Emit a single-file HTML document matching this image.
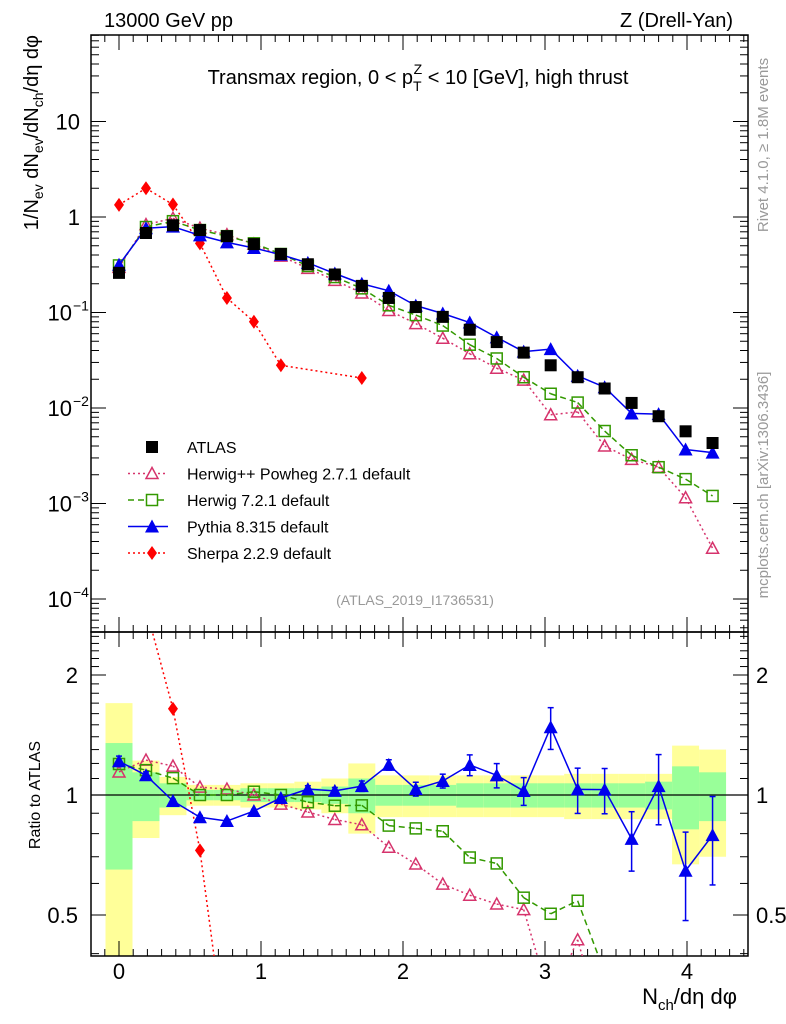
<!DOCTYPE html>
<html><head><meta charset="utf-8"><style>
html,body{margin:0;padding:0;background:#fff;width:786px;height:1024px;overflow:hidden}
svg{display:block;font-family:"Liberation Sans",sans-serif}
</style></head><body>
<svg id="chart" width="786" height="1024" viewBox="0 0 786 1024" xmlns="http://www.w3.org/2000/svg"></svg>
<script>
const xVals=[0,0.19,0.38,0.57,0.76,0.95,1.14,1.33,1.52,1.71,1.9,2.09,2.28,2.47,2.66,2.85,3.04,3.23,3.42,3.61,3.8,3.99,4.18];
const atlas=[0.26,0.68,0.82,0.73,0.63,0.52,0.41,0.32,0.25,0.19,0.142,0.114,0.090,0.066,0.049,0.038,0.028,0.021,0.016,0.0113,0.0082,0.0057,0.0043];
const herwigPP=[0.297,0.832,0.969,0.764,0.652,0.52,0.389,0.29,0.217,0.16,0.105,0.0765,0.0538,0.037,0.0261,0.0196,0.0085,0.0091,0.0040,0.0029,0.0024,0.00115,0.00034];
const herwig7=[0.311,0.785,0.904,0.73,0.63,0.53,0.41,0.307,0.235,0.179,0.119,0.094,0.073,0.046,0.033,0.021,0.0141,0.0114,0.00574,0.0032,0.0024,0.0018,0.0012];
const pythia=[0.316,0.762,0.792,0.642,0.542,0.474,0.403,0.331,0.256,0.2,0.169,0.118,0.0976,0.0785,0.0549,0.0389,0.0414,0.0217,0.0165,0.00877,0.00863,0.00368,0.00341];
const pythiaErr=[0.03,0.02,0.01,0.01,0.01,0.01,0.01,0.02,0.02,0.03,0.03,0.04,0.04,0.06,0.07,0.08,0.12,0.13,0.13,0.17,0.2,0.25,0.25];
const sherpaX=[0,0.19,0.38,0.57,0.76,0.95,1.14,1.71];
const sherpa=[1.34,2.0,1.35,0.53,0.142,0.080,0.028,0.0206];
const totErr=[0.70,0.22,0.11,0.06,0.06,0.07,0.07,0.08,0.1,0.2,0.12,0.12,0.12,0.12,0.12,0.12,0.12,0.13,0.13,0.13,0.13,0.33,0.3];
const statErr=[0.35,0.14,0.07,0.03,0.03,0.04,0.04,0.04,0.05,0.1,0.06,0.06,0.06,0.07,0.07,0.07,0.07,0.07,0.07,0.07,0.08,0.18,0.14];
const mainTicks=[10,1,0.1,0.01,0.001,0.0001];
const mainTickLabels=["10","1","10","10","10","10"];
const mainTickExp=["","","−1","−2","−3","−4"];
const ratioTicks=[2,1,0.5];
const xTicks=[0,1,2,3,4];

const svg=document.getElementById('chart');
const NS='http://www.w3.org/2000/svg';
const L=91,R=748,T=35,M=632,B=956;
const sx=x=>119+x*142;
const sy=v=>217-95.5*Math.log10(v);
const ry=r=>795-120*Math.log2(r);
function mk(tag,attrs,parent){const e=document.createElementNS(NS,tag);for(const k in attrs)e.setAttribute(k,attrs[k]);(parent||svg).appendChild(e);return e;}
function txt(s,attrs,parent){const e=mk('text',attrs,parent);e.textContent=s;return e;}

const defs=mk('defs',{});
const c1=mk('clipPath',{id:'cm'},defs);mk('rect',{x:L,y:T,width:R-L,height:M-T},c1);
const c2=mk('clipPath',{id:'cr'},defs);mk('rect',{x:L,y:M,width:R-L,height:B-M},c2);

const bands=mk('g',{'clip-path':'url(#cr)'});


xVals.forEach((x,i)=>{
  const x0=sx(x-0.095),x1=sx(x+0.095);
  const top=Math.max(ry(1+totErr[i]),M),bot=Math.min(ry(Math.max(1-totErr[i],0.3)),B);
  const yl=mk('rect',{x:x0,y:top,width:x1-x0,height:bot-top,fill:'#ffff99'},bands);
  
  
  const gr=mk('rect',{x:x0,y:ry(1+statErr[i]),width:x1-x0,height:ry(1-statErr[i])-ry(1+statErr[i]),fill:'#99ff99'},bands);
  
  
});
mk('line',{x1:L,x2:R,y1:ry(1),y2:ry(1),stroke:'#000','stroke-width':1.3});

const f1=mk('rect',{x:L,y:T,width:R-L,height:M-T,fill:'none',stroke:'#000','stroke-width':1.5});

const f2=mk('rect',{x:L,y:M,width:R-L,height:B-M,fill:'none',stroke:'#000','stroke-width':1.5});


const tk=mk('g',{stroke:'#000','stroke-width':1});
for(let e=-5;e<=2;e++){for(let m=1;m<10;m++){const v=m*Math.pow(10,e);const y=sy(v);if(y<T||y>M)continue;const len=m===1?15:8;
  mk('line',{x1:L,x2:L+len,y1:y,y2:y},tk);mk('line',{x1:R-len,x2:R,y1:y,y2:y},tk);}}
for(let k=3;k<=25;k++){const r=k/10;const y=ry(r);if(y<M||y>B)continue;const maj=(k===10||k===20||k===5);const len=maj?15:8;
  mk('line',{x1:L,x2:L+len,y1:y,y2:y},tk);mk('line',{x1:R-len,x2:R,y1:y,y2:y},tk);}
for(let k=-3;k<=45;k++){const x=k/10;const X=sx(x);if(X<L||X>R)continue;const maj=(k%10===0);const len=maj?15:7;
  [T,M].forEach(y0=>mk('line',{x1:X,x2:X,y1:y0,y2:y0+len},tk));
  [M,B].forEach(y0=>mk('line',{x1:X,x2:X,y1:y0-len,y2:y0},tk));}

mainTicks.forEach((v,i)=>{const g=mk('g',{});
  if(mainTickExp[i]){txt(mainTickLabels[i],{x:72,y:sy(v)+8,'font-size':22,'text-anchor':'end'},g);txt(mainTickExp[i],{x:73,y:sy(v)-2,'font-size':14},g);}
  else txt(mainTickLabels[i],{x:80,y:sy(v)+8,'font-size':22,'text-anchor':'end'},g);});
ratioTicks.forEach(r=>{const a=txt(String(r),{x:78,y:ry(r)+8,'font-size':22,'text-anchor':'end'});
  const b=txt(String(r),{x:756,y:ry(r)+8,'font-size':22,fill:'#000'});});
xTicks.forEach(x=>{const a=txt(String(x),{x:sx(x),y:979,'font-size':22,'text-anchor':'middle'});});

// clip a segment to y range [y0,y1]
function clipSeg(a,b,y0,y1){
  let t0=0,t1=1;const dy=b[1]-a[1];
  if(dy===0){if(a[1]<y0||a[1]>y1)return null;}
  else{let ta=(y0-a[1])/dy,tb=(y1-a[1])/dy;if(ta>tb)[ta,tb]=[tb,ta];t0=Math.max(t0,ta);t1=Math.min(t1,tb);if(t0>t1)return null;}
  const p=t=>[a[0]+(b[0]-a[0])*t,a[1]+dy*t];return [p(t0),p(t1)];
}
function series(name,xs,vals,color,dash,marker,clipId,mapY,errs,yr){
  const g=mk('g',{'clip-path':'url(#'+clipId+')'});
  
  const pts=xs.map((x,i)=>[sx(x),mapY(vals[i],i)]);
  if(dash!==null){
    for(let i=0;i<pts.length-1;i++){const s=clipSeg(pts[i],pts[i+1],yr[0],yr[1]);if(!s)continue;
      mk('line',{x1:s[0][0],y1:s[0][1],x2:s[1][0],y2:s[1][1],stroke:color,'stroke-width':1.5,'stroke-dasharray':dash},g);}
  }
  pts.forEach((p,i)=>{
    if(p[1]<yr[0]||p[1]>yr[1])return;
    if(errs){const e=errs[i];const y1=Math.max(mapY(vals[i]*(1+e),i),yr[0]),y2=Math.min(mapY(vals[i]*(1-e),i),yr[1]);
      mk('line',{x1:p[0],x2:p[0],y1:y1,y2:y2,stroke:color,'stroke-width':1.5},g);
      mk('line',{x1:p[0]-3,x2:p[0]+3,y1:y1,y2:y1,stroke:color,'stroke-width':1.5},g);
      mk('line',{x1:p[0]-3,x2:p[0]+3,y1:y2,y2:y2,stroke:color,'stroke-width':1.5},g);}
    let m;
    if(marker==='sq') m=mk('rect',{x:p[0]-6,y:p[1]-6,width:12,height:12,fill:'#000'},g);
    else if(marker==='osq') m=mk('rect',{x:p[0]-5.5,y:p[1]-5.5,width:11,height:11,fill:'none',stroke:color,'stroke-width':1.5},g);
    else if(marker==='otri') m=mk('polygon',{points:`${p[0]},${p[1]-6} ${p[0]-6},${p[1]+5} ${p[0]+6},${p[1]+5}`,fill:'none',stroke:color,'stroke-width':1.5},g);
    else if(marker==='tri') m=mk('polygon',{points:`${p[0]},${p[1]-7} ${p[0]-7},${p[1]+6} ${p[0]+7},${p[1]+6}`,fill:color},g);
    else m=mk('polygon',{points:`${p[0]},${p[1]-7} ${p[0]-5},${p[1]} ${p[0]},${p[1]+7} ${p[0]+5},${p[1]}`,fill:color},g);
    
    
  });
}
const mainY=v=>sy(v);
const MR=[T-8,M+8],RR=[M-8,B+8];
series('sherpa-main',sherpaX,sherpa,'#ff0000','2,3','dia','cm',mainY,null,MR);
series('herwigpp-main',xVals,herwigPP,'#d6336c','2,3','otri','cm',mainY,null,MR);
series('herwig7-main',xVals,herwig7,'#339900','6,4','osq','cm',mainY,null,MR);
series('pythia-main',xVals,pythia,'#0000ee','','tri','cm',mainY,null,MR);
series('atlas-main',xVals,atlas,'#000',null,'sq','cm',mainY,null,MR);

const ratioY=(xs)=>(v,i)=>ry(v/atlas[xVals.indexOf(xs[i])]);
series('sherpa-ratio',sherpaX,sherpa,'#ff0000','2,3','dia','cr',ratioY(sherpaX),null,RR);
series('herwigpp-ratio',xVals,herwigPP,'#d6336c','2,3','otri','cr',ratioY(xVals),null,RR);
series('herwig7-ratio',xVals,herwig7,'#339900','6,4','osq','cr',ratioY(xVals),null,RR);
series('pythia-ratio',xVals,pythia,'#0000ee','','tri','cr',ratioY(xVals),pythiaErr,RR);

const leg=mk('g',{});
const entries=[['ATLAS','sq','#000',null],['Herwig++ Powheg 2.7.1 default','otri','#d6336c','2,3'],['Herwig 7.2.1 default','osq','#339900','6,4'],['Pythia 8.315 default','tri','#0000ee',''],['Sherpa 2.2.9 default','dia','#ff0000','2,3']];
entries.forEach((e,i)=>{const y=447+i*26.5;const g=mk('g',{},leg);
  if(e[3]!==null) mk('line',{x1:128,x2:168,y1:y,y2:y,stroke:e[2],'stroke-width':1.5,'stroke-dasharray':e[3]},g);
  const x=152;
  if(e[1]==='sq') mk('rect',{x:x-6,y:y-6,width:12,height:12,fill:'#000'},g);
  else if(e[1]==='osq') mk('rect',{x:x-5.5,y:y-5.5,width:11,height:11,fill:'#fff',stroke:e[2],'stroke-width':1.5},g);
  else if(e[1]==='otri') mk('polygon',{points:`${x},${y-6} ${x-6},${y+5} ${x+6},${y+5}`,fill:'#fff',stroke:e[2],'stroke-width':1.5},g);
  else if(e[1]==='tri') mk('polygon',{points:`${x},${y-7} ${x-7},${y+6} ${x+7},${y+6}`,fill:e[2]},g);
  else mk('polygon',{points:`${x},${y-7} ${x-5},${y} ${x},${y+7} ${x+5},${y}`,fill:e[2]},g);
  txt(e[0],{x:187,y:y+6,'font-size':16},g);});

function label(s,name,attrs){const t=txt(s,attrs);return t;}
label('13000 GeV pp','beam-label',{x:104,y:27,'font-size':20});
label('Z (Drell-Yan)','process-label',{x:733,y:27,'font-size':20,'text-anchor':'end'});
const tt=label('','plot-title',{x:418,y:84,'font-size':20,'text-anchor':'middle'});
tt.innerHTML='Transmax region, 0 &lt; p<tspan font-size="14" dy="7">T</tspan><tspan font-size="14" dx="-8" dy="-17">Z</tspan><tspan dy="10"> &lt; 10 [GeV], high thrust</tspan>';
label('(ATLAS_2019_I1736531)','analysis-label',{x:415,y:605,'font-size':14,fill:'#999','text-anchor':'middle'});
label('Rivet 4.1.0, ≥ 1.8M events','rivet-label',{x:0,y:0,'font-size':15,fill:'#999','text-anchor':'middle',transform:'translate(768,145) rotate(-90)'});
label('mcplots.cern.ch [arXiv:1306.3436]','mcplots-label',{x:0,y:0,'font-size':15,fill:'#999','text-anchor':'middle',transform:'translate(768,485) rotate(-90)'});
const yt=label('','y-axis-title',{x:0,y:0,'font-size':20,'text-anchor':'end',transform:'translate(38,35) rotate(-90)'});
yt.innerHTML='1/N<tspan font-size="14" dy="5">ev</tspan><tspan dy="-5"> dN</tspan><tspan font-size="14" dy="5">ev</tspan><tspan dy="-5">/dN</tspan><tspan font-size="14" dy="5">ch</tspan><tspan dy="-5">/dη dφ</tspan>';
label('Ratio to ATLAS','ratio-axis-title',{x:0,y:0,'font-size':16,'text-anchor':'middle',transform:'translate(40,795) rotate(-90)'});
const xt=label('','x-axis-title',{x:737,y:1004,'font-size':22,'text-anchor':'end'});
xt.innerHTML='N<tspan font-size="15" dy="6">ch</tspan><tspan dy="-6">/dη dφ</tspan>';
</script>
</body></html>
